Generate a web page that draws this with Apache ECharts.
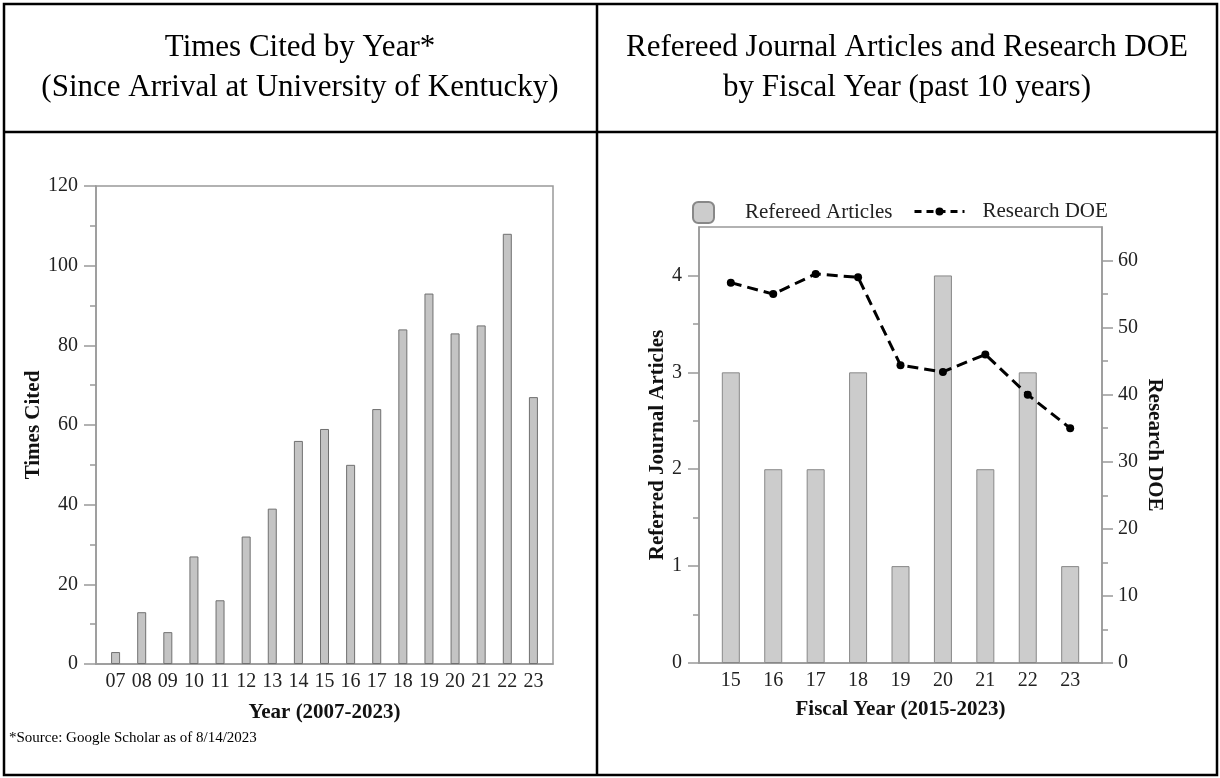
<!DOCTYPE html>
<html>
<head>
<meta charset="utf-8">
<script src="https://cdn.jsdelivr.net/npm/echarts@6/dist/echarts.min.js"></script>
<style>
html,body{margin:0;padding:0;background:#fff;}
#c{width:1220px;height:778px;}
</style>
</head>
<body>
<div id="c"></div>
<script>
// ---- data ----
const citeYears = [7, 8, 9, 10, 11, 12, 13, 14, 15, 16, 17, 18, 19, 20, 21, 22, 23];
const citations = [3, 13, 8, 27, 16, 32, 39, 56, 59, 50, 64, 84, 93, 83, 85, 108, 67];
const fiscalYears = [15, 16, 17, 18, 19, 20, 21, 22, 23];
const articles = [3, 2, 2, 3, 1, 4, 2, 3, 1];
const researchDOE = [56.7, 55.0, 58.0, 57.5, 44.4, 43.4, 46.0, 40.0, 35.0];
const articleTicks = [0, 1, 2, 3, 4];
const articleMinor = [0.5, 1.5, 2.5, 3.5];
const doeTicks = [0, 10, 20, 30, 40, 50, 60];
const doeMinor = [5, 15, 25, 35, 45, 55];

const FONT = "'Liberation Serif','Times New Roman',serif";
const AX = '#999';
const pad2 = v => (v < 10 ? '0' : '') + v;

const chart = echarts.init(document.getElementById('c'));

const baseY = {
  type: 'value',
  axisLine: {show: true, lineStyle: {color: AX, width: 1.5}},
  splitLine: {show: false},
  axisLabel: {fontFamily: FONT, fontSize: 20, color: '#222'},
  nameTextStyle: {fontFamily: FONT, fontSize: 21, fontWeight: 'bold', color: '#111'},
  nameLocation: 'middle'
};

const titleStyle = {fontFamily: FONT, fontSize: 31, fontWeight: 'normal', color: '#000', lineHeight: 40};

const option = {
  backgroundColor: '#fff',
  animation: false,
  textStyle: {fontFamily: FONT},
  title: [
    {text: 'Times Cited by Year*\n(Since Arrival at University of Kentucky)', left: 300, top: 28, textAlign: 'center',
     padding: 0, textStyle: titleStyle},
    {text: 'Refereed Journal Articles and Research DOE\nby Fiscal Year (past 10 years)', left: 907, top: 28, textAlign: 'center',
     padding: 0, textStyle: titleStyle},
    {text: '*Source: Google Scholar as of 8/14/2023', left: 9, top: 731, padding: 0,
     textStyle: {fontFamily: FONT, fontSize: 15, fontWeight: 'normal', color: '#000'}}
  ],
  graphic: [
    {type: 'rect', shape: {x: 4, y: 4, width: 1213, height: 771}, style: {fill: 'none', stroke: '#000', lineWidth: 2.5}, silent: true},
    {type: 'line', shape: {x1: 597, y1: 4, x2: 597, y2: 775}, style: {stroke: '#000', lineWidth: 2.5}, silent: true},
    {type: 'line', shape: {x1: 4, y1: 132, x2: 1217, y2: 132}, style: {stroke: '#000', lineWidth: 2.5}, silent: true}
  ],
  legend: [
    {data: ['Refereed Articles'], left: 692, top: 201, padding: 0, itemWidth: 21, itemHeight: 21, icon: 'roundRect',
     textStyle: {fontFamily: FONT, fontSize: 21, color: '#222', padding: [0, 0, 0, 26]}},
    {data: ['Research DOE'], left: 913, top: 201, padding: 0, itemWidth: 50, itemHeight: 10,
     lineStyle: {type: [7, 5], width: 3},
     textStyle: {fontFamily: FONT, fontSize: 21, color: '#222', padding: [0, 0, 0, 13]}}
  ],
  grid: [
    {left: 96, top: 186, width: 457, height: 478, show: true, borderColor: AX, borderWidth: 1.5, containLabel: false},
    {left: 699, top: 227, width: 403, height: 436, show: true, borderColor: AX, borderWidth: 1.5, containLabel: false}
  ],
  xAxis: [
    {type: 'value', gridIndex: 0, min: 6.25, max: 23.75,
     axisLine: {show: true, lineStyle: {color: AX, width: 1.5}}, axisTick: {show: false}, splitLine: {show: false},
     axisLabel: {customValues: citeYears, formatter: v => pad2(v), fontFamily: FONT, fontSize: 20, color: '#222', margin: 8},
     name: 'Year (2007-2023)', nameLocation: 'middle', nameGap: 38,
     nameTextStyle: {fontFamily: FONT, fontSize: 21, fontWeight: 'bold', color: '#111'}},
    {type: 'value', gridIndex: 1, min: 14.25, max: 23.75,
     axisLine: {show: true, lineStyle: {color: AX, width: 1.5}}, axisTick: {show: false}, splitLine: {show: false},
     axisLabel: {customValues: fiscalYears, formatter: v => String(v), fontFamily: FONT, fontSize: 20, color: '#222', margin: 8},
     name: 'Fiscal Year (2015-2023)', nameLocation: 'middle', nameGap: 36,
     nameTextStyle: {fontFamily: FONT, fontSize: 21, fontWeight: 'bold', color: '#111'}}
  ],
  yAxis: [
    Object.assign({}, baseY, {gridIndex: 0, min: 0, max: 120, interval: 20, position: 'left',
      axisTick: {show: true, length: 12, lineStyle: {color: AX, width: 1.5}},
      minorTick: {show: true, splitNumber: 2, length: 6, lineStyle: {color: AX, width: 1.5}},
      axisLabel: Object.assign({}, baseY.axisLabel, {margin: 18}),
      name: 'Times Cited', nameGap: 37}),
    Object.assign({}, baseY, {gridIndex: 1, min: 0, max: 4.5, position: 'left',
      axisTick: {show: true, customValues: articleTicks, length: 11, lineStyle: {color: AX, width: 1.5}},
      axisLabel: Object.assign({}, baseY.axisLabel, {customValues: articleTicks, margin: 17}),
      name: 'Referred Journal Articles', nameGap: 28}),
    {type: 'value', gridIndex: 1, min: 0, max: 4.5, position: 'left',
      axisLine: {show: false}, splitLine: {show: false}, axisLabel: {show: false},
      axisTick: {show: true, customValues: articleMinor, length: 6, lineStyle: {color: AX, width: 1.5}}},
    Object.assign({}, baseY, {gridIndex: 1, min: 0, max: 65, position: 'right',
      axisTick: {show: true, customValues: doeTicks, length: 11, lineStyle: {color: AX, width: 1.5}},
      axisLabel: Object.assign({}, baseY.axisLabel, {customValues: doeTicks, margin: 16}),
      name: 'Research DOE', nameGap: 42, nameRotate: -90}),
    {type: 'value', gridIndex: 1, min: 0, max: 65, position: 'right',
      axisLine: {show: false}, splitLine: {show: false}, axisLabel: {show: false},
      axisTick: {show: true, customValues: doeMinor, length: 6, lineStyle: {color: AX, width: 1.5}}}
  ],
  series: [
    {name: 'Times Cited', type: 'bar', xAxisIndex: 0, yAxisIndex: 0, barWidth: 9,
     data: citeYears.map((y, i) => [y, citations[i]]),
     itemStyle: {color: '#c4c4c4', borderColor: '#707070', borderWidth: 1}},
    {name: 'Refereed Articles', type: 'bar', xAxisIndex: 1, yAxisIndex: 1, barWidth: 18,
     data: fiscalYears.map((y, i) => [y, articles[i]]),
     itemStyle: {color: '#cccccc', borderColor: '#888', borderWidth: 1}},
    {name: 'Research DOE', type: 'line', xAxisIndex: 1, yAxisIndex: 3, z: 5,
     data: fiscalYears.map((y, i) => [y, researchDOE[i]]),
     symbol: 'circle', symbolSize: 8, showSymbol: true,
     lineStyle: {color: '#000', width: 3, type: [11, 6]},
     itemStyle: {color: '#000'}}
  ]
};
chart.setOption(option);
</script>
</body>
</html>
